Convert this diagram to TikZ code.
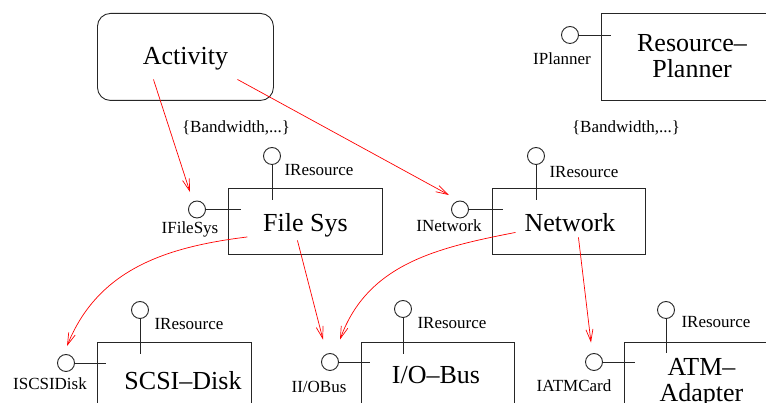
\documentclass[tikz,border=0pt]{standalone}
\usepackage{fontspec}
\setmainfont{Liberation Serif}
\usetikzlibrary{arrows.meta}
\begin{document}
\begin{tikzpicture}[x=1pt,y=1pt,
  box/.style={draw=black!85, line width=0.9pt, inner sep=0pt, anchor=north west},
  compname/.style={font=\fontsize{26}{26}\selectfont, inner sep=0pt, align=center},
  iface/.style={circle, draw=black!85, line width=0.9pt, inner sep=0pt, minimum size=17pt},
  tag/.style={font=\fontsize{17}{17}\selectfont, inner sep=0pt, anchor=base},
  stem/.style={draw=black!85, line width=0.9pt},
  dep/.style={draw=red, line width=0.7pt, -{Straight Barb[length=12pt,width=7pt]}}
]
\useasboundingbox (0,0) rectangle (766,403);
\clip (0,0) rectangle (766,403);

% components
\node[box, rounded corners=13pt, minimum width=176pt, minimum height=87pt] (act) at (97,390) {};
\node[compname, anchor=base] (actT) at (185.5,338.5) {Activity};

\node[box, minimum width=182pt, minimum height=87pt] (plan) at (601,390) {};
\node[compname] (planT) at (692,346.6) {Resource--\\Planner};

\node[box, minimum width=154pt, minimum height=66pt] (fs) at (228,215) {};
\node[compname, anchor=base] (fsT) at (305.5,171) {File Sys};

\node[box, minimum width=153pt, minimum height=66pt] (nw) at (492,215) {};
\node[compname, anchor=base] (nwT) at (570,171) {Network};

\node[box, minimum width=154pt, minimum height=90pt] (sd) at (97,61) {};
\node[compname, anchor=base] (sdT) at (183,13) {SCSI--Disk};

\node[box, minimum width=153pt, minimum height=90pt] (io) at (361,61) {};
\node[compname, anchor=base] (ioT) at (436,19) {I/O--Bus};

\node[box, minimum width=160pt, minimum height=90pt] (atm) at (624,61) {};
\node[compname] (atmT) at (701.5,20.8) {ATM--\\Adapter};

% provided interfaces (side lollipops)
\node[iface] (ipl) at (570,368) {};
\node[tag] (iplT) at (562,338.7) {IPlanner};
\draw[stem, shorten >=-10pt] (ipl.east) -- (plan.west |- ipl.center);

\node[iface] (ifs) at (197,193.5) {};
\node[tag] (ifsT) at (190,169) {IFileSys};
\draw[stem, shorten >=-13pt] (ifs.east) -- (fs.west |- ifs.center);

\node[iface] (inw) at (460,193.5) {};
\node[tag] (inwT) at (449,171) {INetwork};
\draw[stem, shorten >=-11pt] (inw.east) -- (nw.west |- inw.center);

\node[iface] (isd) at (66,40) {};
\node[tag] (isdT) at (50,13) {ISCSIDisk};
\draw[stem, shorten >=-9pt] (isd.east) -- (sd.west |- isd.center);

\node[iface] (iob) at (330,41) {};
\node[tag] (iobT) at (319,10) {II/OBus};
\draw[stem, shorten >=-9pt] (iob.east) -- (io.west |- iob.center);

\node[iface] (iatm) at (594,41) {};
\node[tag] (iatmT) at (574,11) {IATMCard};
\draw[stem, shorten >=-11pt] (iatm.east) -- (atm.west |- iatm.center);

% resource interfaces (top lollipops)
\node[iface] (rfs) at (272,247) {};
\node[tag] (rfsT) at (319,227) {IResource};
\draw[stem, shorten >=-12pt] (rfs.south) -- (rfs.south |- fs.north);

\node[iface] (rnw) at (536,247) {};
\node[tag] (rnwT) at (584,225) {IResource};
\draw[stem, shorten >=-12pt] (rnw.south) -- (rnw.south |- nw.north);

\node[iface] (rsd) at (140,93) {};
\node[tag] (rsdT) at (189,73) {IResource};
\draw[stem, shorten >=-12pt] (rsd.south) -- (rsd.south |- sd.north);

\node[iface] (rio) at (403,94) {};
\node[tag] (rioT) at (452,74) {IResource};
\draw[stem, shorten >=-12pt] (rio.south) -- (rio.south |- io.north);

\node[iface] (ratm) at (666,93) {};
\node[tag] (ratmT) at (716,75) {IResource};
\draw[stem, shorten >=-11pt] (ratm.south) -- (ratm.south |- atm.north);

% constraint annotations
\node[tag, anchor=center] (bw1) at (236,275) {\{Bandwidth,...\}};
\node[tag, anchor=center] (bw2) at (626,275) {\{Bandwidth,...\}};

% usage dependencies
\draw[dep] ([shift={(-32,-22.5)}]act.center) -- ([shift={(-7,8.5)}]ifs.north);
\draw[dep] ([shift={(52,-22.5)}]act.center) -- ([shift={(-11,5.5)}]inw.north);
\draw[dep] ([shift={(-58,-15.5)}]fs.center) to[out=187,in=68] ([shift={(1,8)}]isd.north);
\draw[dep] ([shift={(-8,-19)}]fs.center) -- ([shift={(-7,13.5)}]iob.north);
\draw[dep] ([shift={(-53.5,-11)}]nw.center) to[out=191,in=70] ([shift={(10,13.5)}]iob.north);
\draw[dep] ([shift={(9.5,-16)}]nw.center) -- ([shift={(-3,10.5)}]iatm.north);
\end{tikzpicture}
\end{document}
